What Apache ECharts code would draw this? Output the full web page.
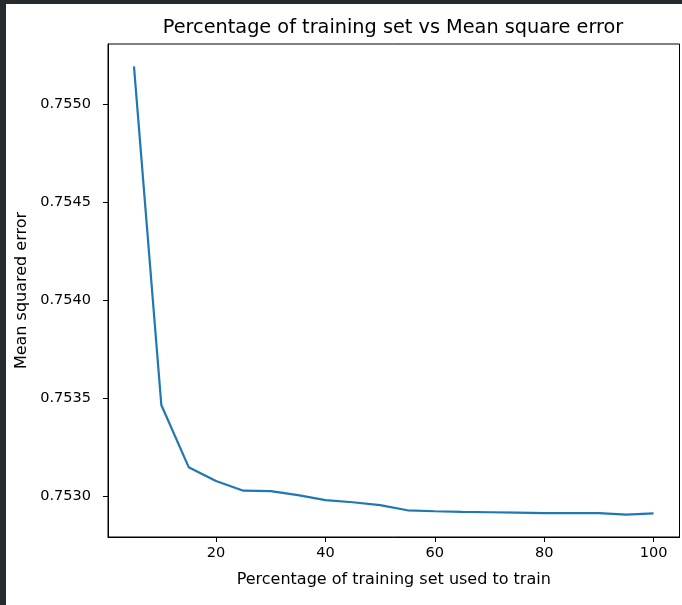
<!DOCTYPE html>
<html>
<head>
<meta charset="utf-8">
<script src="https://cdn.jsdelivr.net/npm/echarts@6/dist/echarts.min.js"></script>
<style>
  html, body { margin: 0; padding: 0; background: #ffffff; }
  #chart { width: 682px; height: 605px; }
</style>
</head>
<body>
<div id="chart"></div>
<script>
// Share of the training set used (%) and the resulting mean squared error
const trainPercent = [5, 10, 15, 20, 25, 30, 35, 40, 45, 50, 55, 60, 65, 70, 75, 80, 85, 90, 95, 100];
const mseValues = [
  0.755192, 0.753465, 0.753148, 0.753077, 0.753028,
  0.753026, 0.753005, 0.752980, 0.752969, 0.752954,
  0.752928, 0.752923, 0.752920, 0.752918, 0.752916,
  0.752913, 0.752913, 0.752913, 0.752906, 0.752912
];
const xTicks = [20, 40, 60, 80, 100];
const yTicks = [0.7530, 0.7535, 0.7540, 0.7545, 0.7550];

// 5% padding around the data range on both axes
function padded(arr) {
  const lo = Math.min(...arr), hi = Math.max(...arr);
  const m = (hi - lo) * 0.05;
  return [lo - m, hi + m];
}
const [xMin, xMax] = padded(trainPercent);
const [yMin, yMax] = padded(mseValues);

const font = 'DejaVu Sans';
const chart = echarts.init(document.getElementById('chart'), null, { renderer: 'canvas' });

chart.setOption({
  backgroundColor: '#ffffff',
  animation: false,
  title: {
    text: 'Percentage of training set vs Mean square error',
    left: 388,
    textAlign: 'center',
    top: 13,
    textStyle: { fontFamily: font, fontSize: 19.3, fontWeight: 'normal', color: '#000000' }
  },
  graphic: [
    { type: 'rect', left: 0, top: 0, shape: { width: 6, height: 605 }, style: { fill: '#252b2f' }, z: 100 },
    { type: 'rect', left: 0, top: 0, shape: { width: 682, height: 4 }, style: { fill: '#252b2f' }, z: 100 }
  ],
  grid: {
    left: 108, top: 44, right: 2.5, bottom: 68,
    show: true, borderColor: '#000000', borderWidth: 1, backgroundColor: '#ffffff'
  },
  xAxis: {
    type: 'value',
    min: xMin, max: xMax,
    name: 'Percentage of training set used to train',
    nameLocation: 'middle',
    nameGap: 35,
    nameTextStyle: { fontFamily: font, fontSize: 16, color: '#000000' },
    axisLine: { show: true, lineStyle: { color: '#000000', width: 1 } },
    axisTick: { show: true, length: 5, lineStyle: { color: '#000000' }, customValues: xTicks },
    axisLabel: {
      fontFamily: font, fontSize: 14.5, color: '#000000', margin: 9,
      customValues: xTicks,
      formatter: v => String(Math.round(v))
    },
    splitLine: { show: false }
  },
  yAxis: {
    type: 'value',
    min: yMin, max: yMax,
    name: 'Mean squared error',
    nameLocation: 'middle',
    nameGap: 69,
    nameTextStyle: { fontFamily: font, fontSize: 16, color: '#000000' },
    axisLine: { show: true, lineStyle: { color: '#000000', width: 1 } },
    axisTick: { show: true, length: 5, lineStyle: { color: '#000000' }, customValues: yTicks },
    axisLabel: {
      fontFamily: font, fontSize: 14.5, color: '#000000', margin: 17,
      customValues: yTicks,
      formatter: v => v.toFixed(4)
    },
    splitLine: { show: false }
  },
  series: [{
    type: 'line',
    data: trainPercent.map((x, i) => [x, mseValues[i]]),
    showSymbol: false,
    symbol: 'none',
    lineStyle: { color: '#1f77b4', width: 2.2 },
    itemStyle: { color: '#1f77b4' },
    clip: true
  }]
});
</script>
</body>
</html>
